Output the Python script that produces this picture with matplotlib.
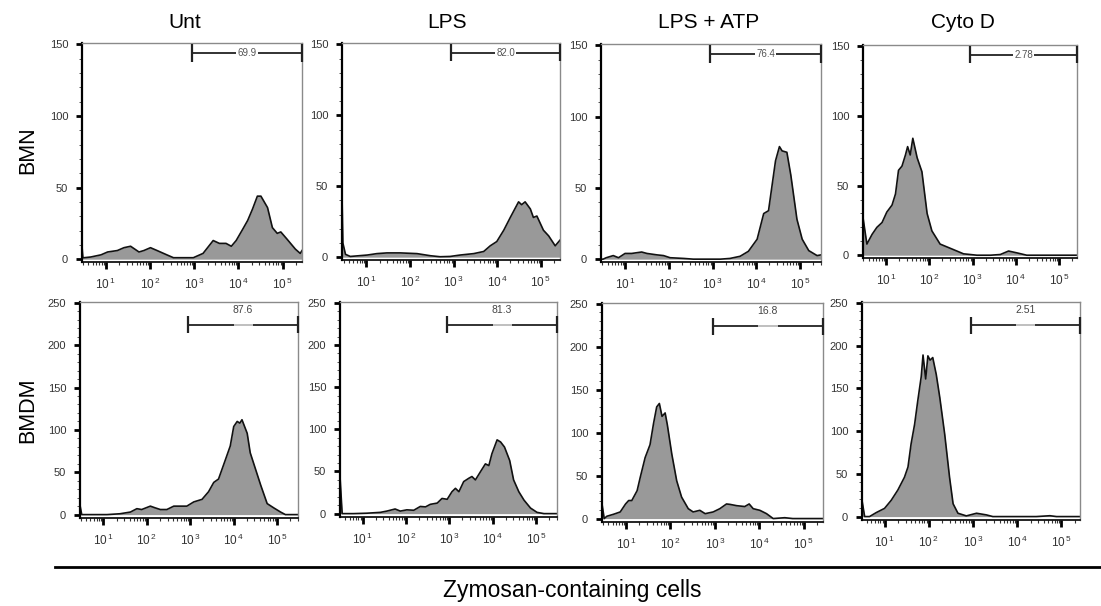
import numpy as np
import matplotlib
matplotlib.use("Agg")
import matplotlib.pyplot as plt
from matplotlib.ticker import FixedLocator, MultipleLocator, NullFormatter

plt.rcParams['font.family'] = ['Liberation Sans', 'DejaVu Sans']
plt.rcParams['mathtext.fontset'] = 'custom'
plt.rcParams['mathtext.rm'] = 'Liberation Sans'

# ---------------- data (x = log10 fluorescence, y = cell count) ----------------
conditions = ["Unt", "LPS", "LPS + ATP", "Cyto D"]
cell_types = ["BMN", "BMDM"]
gate_labels = [["69.9", "82.0", "76.4", "2.78"],
               ["87.6", "81.3", "16.8", "2.51"]]

bmn_unt_logx = [0.46, 0.48, 0.51, 0.66, 0.89, 1.04, 1.26, 1.41, 1.56, 1.75, 1.86, 2.01, 2.16, 2.38,
                2.53, 2.9, 2.98, 3.2, 3.43, 3.57, 3.72, 3.84, 3.95, 4.1, 4.21, 4.32, 4.43, 4.51,
                4.66, 4.77, 4.88, 4.96, 5.1, 5.29, 5.4, 5.44]
bmn_unt_count = [9, 1, 1, 1.5, 3, 5, 6, 8, 9, 5, 6, 8, 6, 3,
                 1, 1, 1, 4, 13, 11, 11, 9, 13, 21, 27, 35, 44, 44,
                 36, 22, 18, 19, 14, 7, 4, 6]

bmn_lps_logx = [0.44, 0.46, 0.52, 0.63, 1.02, 1.24, 1.47, 1.78, 2.16, 2.47, 2.69, 2.92, 3.15, 3.46,
                3.69, 3.84, 3.99, 4.15, 4.3, 4.49, 4.56, 4.64, 4.76, 4.83, 4.91, 5.06, 5.18, 5.33, 5.44]
bmn_lps_count = [44, 10, 2, 0.5, 1.5, 2.5, 3, 3, 2.5, 1, 0.3, 0.5, 1.5, 2.5,
                 4, 8, 11, 19, 28, 39, 37, 39, 34, 28, 29, 19, 15, 8, 12]

bmn_atp_logx = [0.45, 0.5, 0.57, 0.73, 0.85, 1.0, 1.15, 1.38, 1.5, 1.73, 1.88, 2.03, 2.34, 2.56,
                2.72, 3.18, 3.4, 3.63, 3.82, 4.02, 4.17, 4.28, 4.44, 4.53, 4.59, 4.7, 4.79,
                4.93, 5.05, 5.2, 5.39, 5.48]
bmn_atp_count = [0, 0, 1, 2.5, 1, 4, 4, 5, 4, 3, 2.5, 1, 0.5, 0,
                 0, 0, 0.5, 2, 5.5, 14, 32, 34, 69, 79, 76, 75, 59,
                 28, 14, 6, 2.5, 3]

bmn_cyto_logx = [0.47, 0.56, 0.68, 0.79, 0.91, 1.02, 1.14, 1.22, 1.29, 1.37, 1.45, 1.5, 1.56, 1.62,
                 1.72, 1.83, 1.95, 2.06, 2.25, 2.56, 2.79, 3.1, 3.41, 3.64, 3.83, 4.02, 4.25,
                 4.87, 5.41]
bmn_cyto_count = [27, 8, 15, 20, 23.5, 31, 36, 44, 61, 64, 72, 78, 72, 84,
                  70, 60, 30, 17.5, 8, 4, 1, 0, 0, 0.5, 3, 1.7, 0,
                  0, 0]

bmdm_unt_logx = [0.46, 0.5, 0.69, 1.08, 1.38, 1.62, 1.77, 1.88, 2.08, 2.19, 2.31, 2.46, 2.62, 2.92,
                 3.08, 3.27, 3.42, 3.54, 3.65, 3.81, 3.92, 4.0, 4.08, 4.14, 4.19, 4.31, 4.38,
                 4.5, 4.62, 4.77, 4.92, 5.08, 5.19, 5.48]
bmdm_unt_count = [11, 0, 0, 0, 1, 3, 7, 6, 10, 8, 6, 6, 10, 10,
                  15, 18, 27, 38, 42, 65, 81, 104, 110, 108, 112, 96, 73,
                  54, 35, 13, 8, 3, 0, 0]

bmdm_lps_logx = [0.48, 0.53, 0.79, 1.1, 1.41, 1.56, 1.75, 1.87, 2.02, 2.18, 2.33, 2.45, 2.56, 2.72,
                 2.83, 2.95, 3.06, 3.14, 3.22, 3.33, 3.45, 3.52, 3.6, 3.72, 3.83, 3.91, 3.98,
                 4.1, 4.18, 4.27, 4.39, 4.48, 4.6, 4.72, 4.87, 5.02, 5.18, 5.48]
bmdm_lps_count = [44, 0, 0, 0.5, 1.5, 3, 5.5, 3, 4.5, 4, 8.5, 8, 11, 12.5,
                  18, 17, 26, 30, 26, 38, 42, 44, 40, 50, 59, 57, 71,
                  87.5, 85, 79, 63, 40, 26, 16, 6.6, 1.5, 0, 0]

bmdm_atp_logx = [0.46, 0.51, 0.57, 0.72, 0.87, 0.99, 1.06, 1.13, 1.25, 1.32, 1.43, 1.54, 1.62, 1.69,
                 1.75, 1.81, 1.88, 1.93, 2.03, 2.14, 2.25, 2.4, 2.51, 2.66, 2.78, 2.96, 3.11,
                 3.26, 3.34, 3.49, 3.67, 3.77, 3.86, 4.01, 4.16, 4.31, 4.57, 4.75, 5.05, 5.43]
bmdm_atp_count = [17, 0, 2.7, 5, 7.7, 17, 21, 21, 32.5, 48, 71, 86, 111, 130,
                  134, 119, 123, 109, 75, 44, 25, 11.5, 7.7, 9.6, 5.7, 7.7, 11.5,
                  17, 16.5, 15, 14, 17, 11.5, 9.6, 5.7, 0, 1, 0, 0, 0]

bmdm_cyto_logx = [0.49, 0.55, 0.66, 0.81, 1.0, 1.15, 1.3, 1.45, 1.53, 1.6, 1.68, 1.75, 1.83, 1.87,
                  1.93, 1.98, 2.03, 2.09, 2.17, 2.25, 2.36, 2.47, 2.55, 2.66, 2.85, 3.08, 3.3,
                  3.45, 3.75, 4.43, 4.74, 4.89, 5.42]
bmdm_cyto_count = [19, 0, 0, 4.6, 9.6, 19, 31, 46, 58, 85, 108, 135, 164, 189,
                   161, 188, 183, 186, 166, 139, 96.5, 46, 15, 3.9, 0.8, 3.9, 2,
                   0, 0, 0, 1, 0, 0]

panel_logx = [[bmn_unt_logx, bmn_lps_logx, bmn_atp_logx, bmn_cyto_logx],
              [bmdm_unt_logx, bmdm_lps_logx, bmdm_atp_logx, bmdm_cyto_logx]]
panel_count = [[bmn_unt_count, bmn_lps_count, bmn_atp_count, bmn_cyto_count],
               [bmdm_unt_count, bmdm_lps_count, bmdm_atp_count, bmdm_cyto_count]]

gate_start_log = 2.95
row_ymax = [150, 250]
row_ystep = [50, 50]

# ---------------- layout ----------------
W, H = 1101, 606
fig = plt.figure(figsize=(W / 100, H / 100), dpi=100)

# (left, top, right, bottom) in pixels
boxes = [[(82, 43, 302, 262), (342, 43, 560, 260), (601, 44, 821, 262), (863, 45, 1077, 258)],
         [(80, 302, 298, 518), (340, 302, 557, 517), (602, 303, 823, 522), (862, 302, 1080, 520)]]
xlims = [[(0.46, 5.44), (0.44, 5.44), (0.45, 5.48), (0.47, 5.41)],
         [(0.46, 5.48), (0.48, 5.48), (0.46, 5.43), (0.49, 5.42)]]
ylims = [(-2, 151), (-4, 251)]
gate_y = [144, 224]

tick_color = '#333333'

for r in range(2):
    for c in range(4):
        l, t, rr, b = boxes[r][c]
        ax = fig.add_axes([l / W, 1 - b / H, (rr - l) / W, (b - t) / H])
        x = 10 ** np.array(panel_logx[r][c])
        y = np.array(panel_count[r][c], dtype=float)
        ax.fill_between(x, 0, y, color='#999999', linewidth=0, zorder=1)
        ax.plot(x, y, color='#111111', linewidth=1.2, zorder=2)
        ax.set_xscale('log')
        x0, x1 = xlims[r][c]
        ax.set_xlim(10 ** x0, 10 ** x1)
        ax.set_ylim(*ylims[r])

        # spines
        for s in ['top', 'right']:
            ax.spines[s].set_color('#8a8a8a')
            ax.spines[s].set_linewidth(1.0)
        ax.spines['left'].set_color('black')
        ax.spines['left'].set_linewidth(1.6)
        ax.spines['bottom'].set_color('black')
        ax.spines['bottom'].set_linewidth(1.2)

        # x ticks
        decades = [1, 2, 3, 4, 5]
        ax.xaxis.set_major_locator(FixedLocator([10.0 ** d for d in decades]))
        ax.set_xticklabels([r"$\mathregular{10^{\,%d}}$" % d for d in decades])
        minors = [m * 10.0 ** d for d in range(0, 6) for m in range(2, 10)
                  if x0 < np.log10(m * 10.0 ** d) < x1]
        ax.xaxis.set_minor_locator(FixedLocator(minors))
        ax.xaxis.set_minor_formatter(NullFormatter())
        ax.tick_params(axis='x', which='major', length=5, width=2, color='black',
                       labelsize=8.5, labelcolor=tick_color, pad=6)
        ax.tick_params(axis='x', which='minor', length=2.5, width=0.8, color='#333333')

        # y ticks
        ymax = row_ymax[r]
        ax.yaxis.set_major_locator(FixedLocator(list(range(0, ymax + 1, row_ystep[r]))))
        ax.yaxis.set_minor_locator(MultipleLocator(10))
        ax.tick_params(axis='y', which='major', length=4, width=2, color='black',
                       labelsize=8, labelcolor=tick_color, pad=6)
        ax.tick_params(axis='y', which='minor', length=2, width=0.7, color='#555555')

        # gate
        gx0 = 10 ** gate_start_log
        gx1 = 10 ** (x1 - 0.005)
        gy = gate_y[r]
        cap = 6 if r == 0 else 10
        ax.hlines(gy, gx0, gx1, color='#222222', linewidth=1.3, zorder=3, clip_on=False)
        ax.vlines([gx0, gx1], gy - cap, gy + cap, color='#222222', linewidth=1.6,
                  zorder=3, clip_on=False)
        gmid = 10 ** ((gate_start_log + x1) / 2)
        if r == 0:
            ax.text(gmid, gy, gate_labels[r][c], ha='center', va='center', fontsize=7,
                    color='#555555', zorder=4,
                    bbox=dict(boxstyle='square,pad=0.1', fc='white', ec='none'))
        else:
            gm = (gate_start_log + x1) / 2
            ax.hlines(gy, 10 ** (gm - 0.22), 10 ** (gm + 0.22), color='#cfcfcf',
                      linewidth=1.3, zorder=3.5)
            ax.text(gmid, gy + 12, gate_labels[r][c], ha='center', va='bottom',
                    fontsize=7.5, color='#444444', zorder=4)

# column titles
title_x = [185, 447, 709, 963]
for c in range(4):
    fig.text(title_x[c] / W, 1 - 22 / H, conditions[c], ha='center', va='center', fontsize=15)

# row labels
row_y = [150, 410]
for r in range(2):
    fig.text(28 / W, 1 - row_y[r] / H, cell_types[r], ha='center', va='center',
             fontsize=15.5, rotation=90)

# bottom line and x label
fig.add_artist(plt.Line2D([55 / W, 1.0], [1 - 567 / H, 1 - 567 / H],
                          color='black', linewidth=2, transform=fig.transFigure))
fig.text(572 / W, 1 - 590 / H, "Zymosan-containing cells", ha='center', va='center',
         fontsize=16.5)

fig.savefig("out.png", dpi=100)
